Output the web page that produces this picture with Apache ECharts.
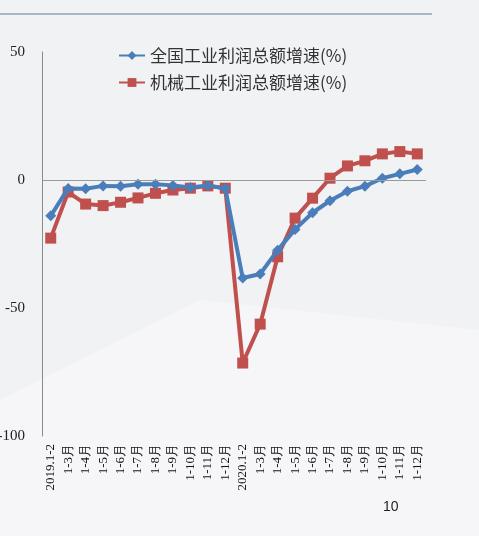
<!DOCTYPE html>
<html>
<head>
<meta charset="utf-8">
<script src="https://cdn.jsdelivr.net/npm/echarts@6/dist/echarts.min.js"></script>
<style>
html, body { margin: 0; padding: 0; background: #f1f2f4; }
#chart { width: 479px; height: 536px; }
</style>
</head>
<body>
<div id="chart"></div>
<script>
const categories = [
    '2019.1-2', '1-3月', '1-4月', '1-5月', '1-6月', '1-7月', '1-8月', '1-9月', '1-10月', '1-11月', '1-12月',
    '2020.1-2', '1-3月', '1-4月', '1-5月', '1-6月', '1-7月', '1-8月', '1-9月', '1-10月', '1-11月', '1-12月',
]
const nationalProfit = [
    -14.0, -3.3, -3.4, -2.3, -2.4, -1.7, -1.7, -2.1, -2.9, -2.1, -3.3,
    -38.3, -36.7, -27.4, -19.3, -12.8, -8.1, -4.4, -2.4, 0.7, 2.4, 4.1,
]
const machineryProfit = [
    -22.7, -4.7, -9.4, -10.0, -8.7, -7.0, -5.2, -3.9, -3.2, -2.3, -3.2,
    -71.5, -56.3, -30.0, -14.9, -7.1, 0.7, 5.5, 7.5, 10.2, 11.1, 10.2,
]
const yTicks = [-100, -50, 0, 50]

const chart = echarts.init(document.getElementById('chart'))
chart.setOption({
    backgroundColor: '#f1f2f4',
    animation: false,
    graphic: [
        {
            type: 'polygon',
            silent: true,
            z: -10,
            shape: { points: [[0, 400], [200, 300], [479, 330], [479, 536], [0, 536]] },
            style: { fill: 'rgba(255,255,255,0.35)' },
        },
        {
            type: 'line',
            silent: true,
            shape: { x1: 0, y1: 14, x2: 432, y2: 14 },
            style: { stroke: '#8fa3b8', lineWidth: 1.5 },
        },
        {
            type: 'text',
            left: 383,
            top: 500,
            style: { text: '10', fontSize: 14, fill: '#222', fontFamily: 'Liberation Sans' },
        },
    ],
    legend: {
        orient: 'vertical',
        left: 113,
        top: 42,
        itemGap: 10,
        itemWidth: 26,
        itemHeight: 11,
        textStyle: { fontSize: 17, color: '#333', fontFamily: 'Noto Sans CJK SC' },
        data: ['全国工业利润总额增速(%)', '机械工业利润总额增速(%)'],
    },
    grid: {
        left: 42,
        right: 53,
        top: 52,
        bottom: 100,
        outerBoundsMode: 'none',
    },
    xAxis: {
        type: 'category',
        data: categories,
        boundaryGap: true,
        axisLine: { show: false },
        axisTick: { show: false },
        axisLabel: {
            interval: 0,
            rotate: 90,
            margin: 8,
            fontSize: 13,
            color: '#111',
            fontFamily: 'Liberation Serif',
        },
    },
    yAxis: {
        type: 'value',
        min: yTicks[0],
        max: yTicks[yTicks.length - 1],
        interval: 50,
        axisLine: { show: true, lineStyle: { color: '#8a8a8a', width: 1 } },
        axisTick: { show: false },
        splitLine: { show: false },
        axisLabel: {
            margin: 17,
            fontSize: 15,
            color: '#222',
            fontFamily: 'Liberation Serif',
        },
    },
    series: [
        {
            name: '全国工业利润总额增速(%)',
            type: 'line',
            data: nationalProfit,
            symbol: 'diamond',
            symbolSize: 11,
            z: 3,
            itemStyle: { color: '#4a7ebb' },
            lineStyle: { color: '#4a7ebb', width: 4 },
            markLine: {
                silent: true,
                symbol: 'none',
                label: { show: false },
                lineStyle: { color: '#9a9a9a', width: 1, type: 'solid' },
                data: [{ yAxis: 0 }],
            },
        },
        {
            name: '机械工业利润总额增速(%)',
            type: 'line',
            data: machineryProfit,
            symbol: 'rect',
            symbolSize: 11,
            z: 2,
            itemStyle: { color: '#c0504d' },
            lineStyle: { color: '#c0504d', width: 4 },
        },
    ],
})
</script>
</body>
</html>
